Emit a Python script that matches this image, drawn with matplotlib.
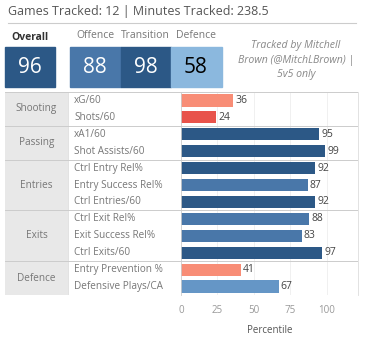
import matplotlib.pyplot as plt
from matplotlib.patches import Rectangle
from matplotlib.lines import Line2D

plt.rcParams['font.family'] = ['Open Sans', 'DejaVu Sans']

# Header numbers
games = 12
minutes = 238.5
overall = 96
phase_names = ["Offence", "Transition", "Defence"]
phase_scores = [88, 98, 58]

# Percentile table
groups = ["Shooting", "Passing", "Entries", "Exits", "Defence"]
group_sizes = [2, 2, 3, 3, 2]
metrics = ["xG/60", "Shots/60", "xA1/60", "Shot Assists/60", "Ctrl Entry Rel%",
           "Entry Success Rel%", "Ctrl Entries/60", "Ctrl Exit Rel%",
           "Exit Success Rel%", "Ctrl Exits/60", "Entry Prevention %",
           "Defensive Plays/CA"]
percentiles = [36, 24, 95, 99, 92, 87, 92, 88, 83, 97, 41, 67]
ticks = [0, 25, 50, 75, 100]

W, H = 368, 342


def fx(x):
    return x / W


def fy(y):
    return 1 - y / H


def colour(v):
    # stepped red-blue diverging scale
    if v < 30:
        return "#e8534b"
    if v < 50:
        return "#f88d76"
    if v < 62:
        return "#8bb8de"
    if v < 75:
        return "#6596c6"
    if v < 90:
        return "#4977a9"
    return "#2c5886"


fig = plt.figure(figsize=(W / 100, H / 100), dpi=100)

# title and rule
fig.text(fx(8), fy(12), f"Games Tracked: {games} | Minutes Tracked: {minutes}",
         fontsize=9, color="#555555", va="center", ha="left")
fig.add_artist(Line2D([fx(8), fx(356)], [fy(23), fy(23)], color="#cccccc", lw=0.8))

# score boxes
fig.text(fx(30), fy(37), "Overall", fontsize=7.5, fontweight="bold",
         color="#333333", ha="center", va="center")
fig.add_artist(Rectangle((fx(5), fy(87)), fx(50), 40 / H, color=colour(overall)))
fig.text(fx(30), fy(67.5), str(overall), fontsize=15, color="white",
         ha="center", va="center")
for i, (name, s) in enumerate(zip(phase_names, phase_scores)):
    x0 = 70 + i * 50.5
    fig.text(fx(x0 + 25), fy(36), name, fontsize=7.5, color="#777777",
             ha="center", va="center")
    fig.add_artist(Rectangle((fx(x0), fy(87)), fx(50.5), 40 / H, color=colour(s)))
    fig.text(fx(x0 + 25), fy(67.5), str(s), fontsize=15,
             color="white" if s > 62 else "black", ha="center", va="center")

fig.text(fx(296), fy(60), "Tracked by Mitchell\nBrown (@MitchLBrown) |\n5v5 only",
         fontsize=7.6, style="italic", color="#888888", ha="center", va="center",
         linespacing=1.45)

n = len(metrics)
top, bot = 92, 295
bounds = [0]
for g in group_sizes:
    bounds.append(bounds[-1] + g)

# left table part (pixel units on x)
ax_t = fig.add_axes([fx(5), fy(bot), fx(176), (bot - top) / H])
ax_t.set_xlim(0, 176)
ax_t.set_ylim(n, 0)
ax_t.axis("off")
ax_t.add_patch(Rectangle((0, 0), 63, n, color="#e8e8e8", lw=0))
ax_t.axvline(63, color="#dddddd", lw=0.6)
for i, (g, s) in enumerate(zip(groups, group_sizes)):
    ax_t.text(31.5, (bounds[i] + bounds[i + 1]) / 2, g, fontsize=7.2,
              color="#777777", ha="center", va="center")
for i, m in enumerate(metrics):
    ax_t.text(69, i + 0.5, m, fontsize=7.2, color="#777777", ha="left", va="center")
for b in bounds:
    ax_t.axhline(b, color="#cccccc", lw=0.7)

# bars
ax = fig.add_axes([fx(181), fy(bot), fx(177), (bot - top) / H])
rows = [i + 0.5 for i in range(n)]
ax.barh(rows, percentiles, height=0.72, color=[colour(v) for v in percentiles])
for r, v in zip(rows, percentiles):
    ax.text(v + 1.5, r, str(v), fontsize=7.5, color="#444444", va="center", ha="left")
ax.set_xlim(0, 121.6)
ax.set_ylim(n, 0)
ax.set_yticks([])
ax.set_xticks(ticks)
ax.tick_params(axis="x", length=0, labelsize=7, labelcolor="#999999", pad=7)
for t in ticks[1:]:
    ax.axvline(t, color="#eeeeee", lw=0.6, zorder=0)
for b in bounds:
    ax.axhline(b, color="#cccccc", lw=0.7)
for sp in ["top", "bottom"]:
    ax.spines[sp].set_visible(False)
ax.spines["left"].set_color("#cccccc")
ax.spines["right"].set_color("#dddddd")
ax.spines["left"].set_linewidth(0.6)
ax.spines["right"].set_linewidth(0.6)
ax.set_xlabel("Percentile", fontsize=7, color="#555555", labelpad=7)

fig.savefig("out.png", dpi=100)
